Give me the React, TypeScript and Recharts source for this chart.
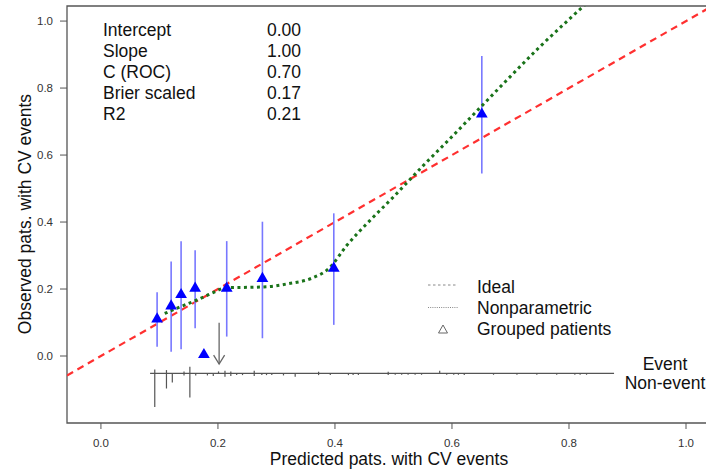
import React from 'react';
import { ComposedChart, Line, Scatter, ErrorBar, XAxis, YAxis, ZAxis, ReferenceArea } from 'recharts';

const FONT = "'Liberation Sans', Arial, Helvetica, sans-serif";

// axis ticks
const xTicks = [0, 0.2, 0.4, 0.6, 0.8, 1.0];
const yTicks = [0, 0.2, 0.4, 0.6, 0.8, 1.0];

// stats box
const statLabels = ['Intercept', 'Slope', 'C (ROC)', 'Brier scaled', 'R2'];
const statValues = ['0.00', '1.00', '0.70', '0.17', '0.21'];

// ideal line (y = x) across the plot
const idealX = [-0.058, 1.041];
const idealY = [-0.058, 1.041];

// nonparametric (loess) calibration curve
const npX = [0.109, 0.14, 0.165, 0.19, 0.215, 0.25, 0.285, 0.32, 0.36, 0.39, 0.42, 0.46, 0.5, 0.55, 0.6, 0.65, 0.7, 0.75, 0.8, 0.85];
const npY = [0.127, 0.15, 0.168, 0.188, 0.204, 0.205, 0.207, 0.216, 0.232, 0.262, 0.33, 0.405, 0.475, 0.567, 0.655, 0.745, 0.835, 0.923, 1.005, 1.085];

// grouped patients with 95% CI
const grpX = [0.096, 0.12, 0.137, 0.161, 0.176, 0.215, 0.276, 0.398, 0.651];
const grpY = [0.11, 0.149, 0.183, 0.202, 0.004, 0.202, 0.231, 0.262, 0.722];
const grpLo = [0.028, 0.013, 0.02, 0.083, 0.004, 0.058, 0.053, 0.093, 0.545];
const grpHi = [0.19, 0.282, 0.343, 0.316, 0.004, 0.343, 0.401, 0.426, 0.896];

// spike histogram of predictions (events up, non-events down)
const spikeBase = -0.052;
const spikeRange = [0.084, 0.877];
const spikeX = [0.092, 0.112, 0.122, 0.142, 0.152, 0.162, 0.182, 0.192, 0.201, 0.212, 0.222, 0.232, 0.242, 0.262, 0.275, 0.283, 0.292, 0.312, 0.332, 0.372, 0.392, 0.423, 0.431, 0.44, 0.491, 0.503, 0.514, 0.525, 0.537, 0.548, 0.579, 0.591, 0.603, 0.611, 0.621, 0.671, 0.711, 0.745, 0.779, 0.81, 0.819, 0.83];
const spikeUp = [0.012, 0.01, 0, 0.006, 0.02, 0, 0, 0, 0.006, 0.008, 0.006, 0, 0, 0.008, 0, 0, 0, 0, 0, 0.005, 0, 0, 0, 0, 0.005, 0, 0, 0, 0, 0, 0.008, 0, 0, 0, 0, 0, 0, 0, 0, 0, 0, 0];
const spikeDown = [0.1, 0.045, 0.027, 0.006, 0.072, 0.006, 0.006, 0.008, 0, 0.01, 0.008, 0.005, 0.005, 0.008, 0.005, 0.005, 0.005, 0.006, 0.01, 0.005, 0.005, 0.005, 0.005, 0.005, 0.005, 0.004, 0.004, 0.004, 0.004, 0.004, 0, 0.004, 0.004, 0.004, 0.005, 0.004, 0.004, 0.004, 0.004, 0.004, 0.004, 0.004];

// arrow marking the mean prediction
const arrowX = 0.202;
const arrowY = [0.099, -0.024];

const idealData = idealX.map((x, i) => ({ x, y: idealY[i] }));
const npData = npX.map((x, i) => ({ x, y: npY[i] }));
const grpData = grpX.map((x, i) => ({ x, y: grpY[i], err: [grpY[i] - grpLo[i], grpHi[i] - grpY[i]] }));
const spikeData = spikeX.map((x, i) => ({ x, y: spikeBase, err: [spikeDown[i], spikeUp[i]] }));
const baseData = spikeRange.map((x) => ({ x, y: spikeBase }));
const arrowData = arrowY.map((y) => ({ x: arrowX, y }));

const ArrowHead = (props: any) => {
  const { cx, cy } = props;
  return <path d={`M${cx - 5.5},${cy - 9} L${cx},${cy} L${cx + 5.5},${cy - 9}`} stroke="#666" strokeWidth={1.3} fill="none" />;
};

const NoDot = () => <g />;

export default function App() {
  return (
    <div style={{ position: 'relative', width: 706, height: 473, overflow: 'hidden', background: '#fff', fontFamily: FONT }}>
      <style>{`body{margin:0}`}</style>
      <ComposedChart width={712} height={473} margin={{ top: 6, right: 2, bottom: 0, left: 0 }}>
        <XAxis
          type="number"
          dataKey="x"
          domain={[-0.058, 1.041]}
          allowDataOverflow
          ticks={xTicks}
          tickFormatter={(v: number) => v.toFixed(1)}
          axisLine={false}
          tickLine={{ stroke: '#555' }}
          tickSize={6}
          tickMargin={10}
          height={50}
          tick={{ fill: '#333', fontSize: 11.5, fontFamily: FONT }}
        />
        <YAxis
          type="number"
          dataKey="y"
          domain={[-0.2, 1.045]}
          allowDataOverflow
          ticks={yTicks}
          tickFormatter={(v: number) => v.toFixed(1)}
          axisLine={false}
          tickLine={{ stroke: '#555' }}
          tickSize={7}
          tickMargin={7}
          width={67}
          tick={{ fill: '#333', fontSize: 11.5, fontFamily: FONT }}
        />
        <ZAxis type="number" range={[60, 60]} />
        <ReferenceArea x1={-0.058} x2={1.041} y1={-0.2} y2={1.045} fill="none" stroke="#555" strokeWidth={1.3} ifOverflow="visible" />
        <Line data={idealData} dataKey="y" type="linear" stroke="#ff3030" strokeWidth={2.2} strokeDasharray="7 5" dot={false} isAnimationActive={false} />
        <Line data={baseData} dataKey="y" type="linear" stroke="#555" strokeWidth={1.2} dot={false} isAnimationActive={false} />
        <Scatter data={spikeData} shape={NoDot} isAnimationActive={false}>
          <ErrorBar dataKey="err" direction="y" width={0} stroke="#555" strokeWidth={1.2} />
        </Scatter>
        <Line data={arrowData} dataKey="y" type="linear" stroke="#666" strokeWidth={1.3} dot={false} isAnimationActive={false} />
        <Scatter data={arrowData.slice(1)} shape={ArrowHead} isAnimationActive={false} />
        <Scatter data={grpData} shape="triangle" fill="#0000ff" isAnimationActive={false}>
          <ErrorBar dataKey="err" direction="y" width={0} stroke="#7878ff" strokeWidth={1.6} />
        </Scatter>
        <Line data={npData} dataKey="y" type="monotone" stroke="#1a731a" strokeWidth={3} strokeDasharray="3 3.5" dot={false} isAnimationActive={false} />
      </ComposedChart>

      <svg width={706} height={473} style={{ position: 'absolute', left: 0, top: 0, pointerEvents: 'none' }} fontFamily={FONT}>
        {statLabels.map((s, i) => (
          <g key={s}>
            <text x={103} y={36 + i * 21} fontSize={17.5} fill="#111">{s}</text>
            <text x={267} y={36 + i * 21} fontSize={17.5} fill="#111">{statValues[i]}</text>
          </g>
        ))}

        {/* legend */}
        <line x1={428} x2={458} y1={285} y2={285} stroke="#888" strokeWidth={1} strokeDasharray="2.5 2.5" />
        <line x1={428} x2={458} y1={307.5} y2={307.5} stroke="#888" strokeWidth={1} strokeDasharray="1 1.2" />
        <path d="M443,325 L447.5,333 L438.5,333 Z" fill="none" stroke="#666" strokeWidth={1} />
        <text x={477} y={293} fontSize={17.5} fill="#111">Ideal</text>
        <text x={477} y={314} fontSize={17.5} fill="#111">Nonparametric</text>
        <text x={477} y={335} fontSize={17.5} fill="#111">Grouped patients</text>

        <text x={665} y={370} fontSize={17.5} fill="#111" textAnchor="middle">Event</text>
        <text x={665} y={389} fontSize={17.5} fill="#111" textAnchor="middle">Non-event</text>

        <text x={389} y={465} fontSize={17.5} fill="#111" textAnchor="middle">Predicted pats. with CV events</text>
        <text transform="translate(31,214) rotate(-90)" fontSize={17.5} fill="#111" textAnchor="middle">Observed pats. with CV events</text>
      </svg>
    </div>
  );
}
